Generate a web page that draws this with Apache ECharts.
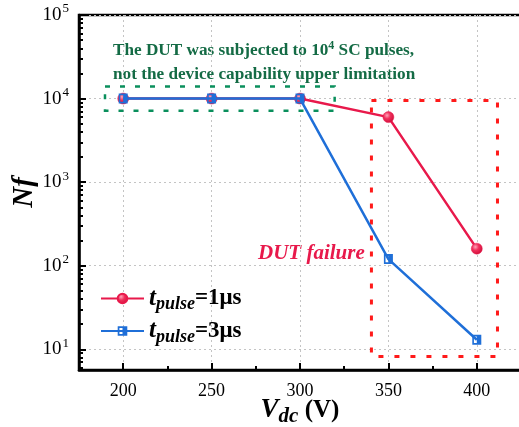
<!DOCTYPE html>
<html>
<head>
<meta charset="utf-8">
<script src="https://cdn.jsdelivr.net/npm/echarts@6/dist/echarts.min.js"></script>
<style>
  html, body { margin: 0; padding: 0; background: #fff; }
  #chart { width: 519px; height: 427px; }
</style>
</head>
<body>
<div id="chart"></div>
<script>
// Supply voltage (V) and number of short-circuit cycles to failure
const voltages = [200, 250, 300, 350, 400];
const nf1us = [10000, 10000, 10000, 6000, 160];
const nf3us = [10000, 10000, 10000, 120, 13];

const xTicks = [200, 250, 300, 350, 400];
const xMinorTicks = [225, 275, 325, 375];
const yTicks = [10, 100, 1000, 10000, 100000];
const yMinorTicks = [6, 7, 8, 9, 20, 30, 40, 50, 60, 70, 80, 90,
  200, 300, 400, 500, 600, 700, 800, 900,
  2000, 3000, 4000, 5000, 6000, 7000, 8000, 9000,
  20000, 30000, 40000, 50000, 60000, 70000, 80000, 90000];

// Annotated regions (data coordinates)
const testLimitBox = [[189.7, 13960], [319.6, 7170]];
const failureBox = [[340.4, 9460], [411.7, 8.2]];

const SERIF = '"Liberation Serif", "Times New Roman", serif';
const RED = '#e8194b';
const BLUE = '#1f6fd8';
const GREEN_TEXT = '#146b45';
const GREEN_BOX = '#0a8f5c';

const chart = echarts.init(document.getElementById('chart'));

const xMin = 175, xMax = 425, yMin = 5.65, yMax = 100000;

const pairs = (ys) => voltages.map((v, i) => [v, ys[i]]);

const legendRich = {
  t: { fontFamily: SERIF, fontSize: 25, fontStyle: 'italic', fontWeight: 'bold', color: '#000' },
  sub: { fontFamily: SERIF, fontSize: 18, fontStyle: 'italic', fontWeight: 'bold', color: '#000', padding: [12, 0, 0, 0] },
  v: { fontFamily: SERIF, fontSize: 23, fontWeight: 'bold', color: '#000' }
};

const option = {
  backgroundColor: '#fff',
  animation: false,
  grid: {
    left: 79, top: 15, right: -2, bottom: 57,
    outerBoundsMode: 'none', containLabel: false,
    show: true, borderColor: '#000', borderWidth: 2.5
  },
  xAxis: [{
    type: 'value', min: xMin, max: xMax,
    axisLine: { lineStyle: { color: '#000', width: 2.5 } },
    axisTick: { customValues: xTicks, inside: true, length: 7, lineStyle: { color: '#000', width: 2 } },
    axisLabel: {
      customValues: xTicks, margin: 12,
      fontFamily: SERIF, fontSize: 18, color: '#000'
    },
    splitLine: { show: true, lineStyle: { color: '#c4c4c4', width: 1, type: [2, 3] } },
    name: '{v|V}{sub|dc}{u| (V)}',
    nameLocation: 'middle', nameGap: 24, nameMoveOverlap: false,
    nameTextStyle: {
      rich: {
        v: { fontFamily: SERIF, fontSize: 27, fontStyle: 'italic', fontWeight: 'bold', color: '#000' },
        sub: { fontFamily: SERIF, fontSize: 21, fontStyle: 'italic', fontWeight: 'bold', color: '#000', padding: [12, 0, 0, 0] },
        u: { fontFamily: SERIF, fontSize: 25, fontWeight: 'bold', color: '#000' }
      }
    }
  }, {
    type: 'value', min: xMin, max: xMax, position: 'bottom',
    axisLine: { show: false },
    axisTick: { customValues: xMinorTicks, inside: true, length: 4, lineStyle: { color: '#000', width: 2 } },
    axisLabel: { show: false },
    splitLine: { show: false }
  }],
  yAxis: [{
    type: 'log', logBase: 10, min: yMin, max: yMax,
    axisLine: { show: true, lineStyle: { color: '#000', width: 2.5 } },
    axisTick: { customValues: yTicks, inside: true, length: 7, lineStyle: { color: '#000', width: 2 } },
    axisLabel: {
      customValues: yTicks, margin: 10,
      formatter: (v) => {
        const e = Math.round(Math.log10(v));
        return '{b|10}{s|' + e + '}';
      },
      rich: {
        b: { fontFamily: SERIF, fontSize: 19, color: '#000' },
        s: { fontFamily: SERIF, fontSize: 13, color: '#000', padding: [0, 0, 12, 1] }
      }
    },
    splitLine: { show: true, lineStyle: { color: '#c4c4c4', width: 1, type: [2, 3] } },
    name: 'Nf',
    nameLocation: 'middle', nameGap: 40, nameRotate: 90, nameMoveOverlap: false,
    nameTextStyle: { fontFamily: SERIF, fontSize: 29, fontStyle: 'italic', fontWeight: 'bold', color: '#000' }
  }, {
    type: 'log', logBase: 10, min: yMin, max: yMax, position: 'left',
    axisLine: { show: false },
    axisTick: { customValues: yMinorTicks, inside: true, length: 4, lineStyle: { color: '#000', width: 2 } },
    axisLabel: { show: false },
    splitLine: { show: false }
  }],
  legend: {
    left: 95, top: 281, orient: 'vertical',
    itemWidth: 43, itemHeight: 12, itemGap: 5,
    data: ['1us', '3us'],
    formatter: (name) => name === '1us'
      ? '{t|t}{sub|pulse}{v|=1μs}'
      : '{t|t}{sub|pulse}{v|=3μs}',
    textStyle: { rich: legendRich }
  },
  series: [{
    name: '1us', type: 'line', data: pairs(nf1us),
    xAxisIndex: 0, yAxisIndex: 0, z: 3,
    lineStyle: { color: RED, width: 2.5 },
    symbol: 'circle', symbolSize: 11,
    itemStyle: {
      color: {
        type: 'radial', x: 0.38, y: 0.35, r: 0.65,
        colorStops: [
          { offset: 0, color: '#ffa3b8' },
          { offset: 0.45, color: '#f0305c' },
          { offset: 1, color: '#d20f3c' }
        ]
      },
      borderColor: RED, borderWidth: 0.5
    }
  }, {
    name: '3us', type: 'line', data: pairs(nf3us),
    xAxisIndex: 0, yAxisIndex: 0, z: 4,
    lineStyle: { color: BLUE, width: 2.5 },
    symbol: 'path://M0,0L10,0L10,10L0,10Z M1.8,1.8L1.8,8.2L8.2,8.2L8.2,1.8Z M5,1.8L8.2,1.8L8.2,8.2L5,8.2Z',
    symbolSize: [9, 10], symbolKeepAspect: false,
    itemStyle: { color: BLUE },
    markArea: {
      silent: true,
      data: [
        [{ coord: testLimitBox[0], itemStyle: { color: 'rgba(0,0,0,0)', borderColor: GREEN_BOX, borderWidth: 2.5, borderType: [5, 10] } },
         { coord: testLimitBox[1] }],
        [{ coord: failureBox[0], itemStyle: { color: 'rgba(0,0,0,0)', borderColor: '#ff1a1a', borderWidth: 3, borderType: [5, 11] } },
         { coord: failureBox[1] }]
      ]
    }
  }],
  graphic: [{
    type: 'text', left: 113, top: 40, silent: true,
    style: {
      text: '{a|The DUT was subjected to 10}{s|4}{a| SC pulses,}\n{a|not the device capability upper limitation}',
      rich: {
        a: { fontFamily: SERIF, fontSize: 17.2, fontWeight: 'bold', fill: GREEN_TEXT, lineHeight: 24 },
        s: { fontFamily: SERIF, fontSize: 12, fontWeight: 'bold', fill: GREEN_TEXT, padding: [0, 0, 9, 0], lineHeight: 24 }
      }
    }
  }, {
    type: 'text', left: 258, top: 243, silent: true,
    style: {
      text: 'DUT failure',
      fontFamily: SERIF, fontSize: 21, fontStyle: 'italic', fontWeight: 'bold', fill: RED
    }
  }]
};

chart.setOption(option);
</script>
</body>
</html>
